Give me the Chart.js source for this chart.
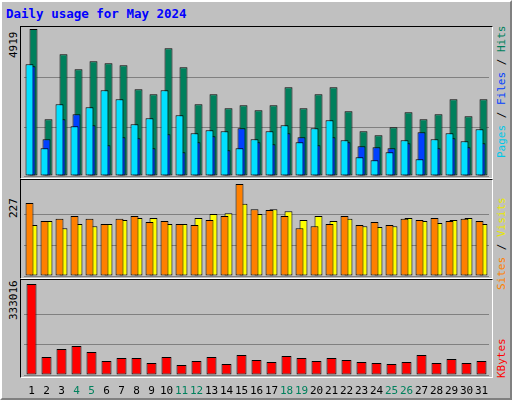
<!DOCTYPE html>
<html>
<head>
<meta charset="utf-8">
<script src="https://cdn.jsdelivr.net/npm/chart.js@4/dist/chart.umd.min.js"></script>
<style>
  body { margin: 0; background: #fff; }
  #frame { position: absolute; left: 0; top: 0; width: 508px; height: 396px; background: #c0c0c0;
    border: 2px solid; border-color: #fff #808080 #808080 #fff; font-family: "DejaVu Sans Mono", monospace; }
  .panel { position: absolute; left: 18px; width: 471px; border: 1px solid; border-color: #000 #fff #fff #000; }
  canvas { position: absolute; }
  .title { position: absolute; left: 4px; top: 4px; color: #0000ff; font-weight: bold; font-size: 12.5px; }
  .rot { position: absolute; transform-origin: 0 0; transform: rotate(-90deg); white-space: nowrap;
    font-size: 11px; }
</style>
</head>
<body>
<div id="frame">
  <div class="title">Daily usage for May 2024</div>
  <div class="panel" style="top:24px;height:151px"></div>
  <div class="panel" style="top:177px;height:98px"></div>
  <div class="panel" style="top:277px;height:97px"></div>

  <div class="rot" style="left:5px;top:56px">4919</div>
  <div class="rot" style="left:5px;top:216px">227</div>
  <div class="rot" style="left:5px;top:318px">333016</div>

  <div class="rot" style="left:493px;top:156px"><span style="color:#00c8e8">Pages</span> / <span style="color:#0040ff">Files</span> / <span style="color:#00805c">Hits</span></div>
  <div class="rot" style="left:493px;top:288px"><span style="color:#ff8000">Sites</span> / <span style="color:#e8e800">Visits</span></div>
  <div class="rot" style="left:493px;top:376px"><span style="color:#ff0000">KBytes</span></div>
</div>
<canvas id="c1" width="471" height="151" style="left:20px;top:26px"></canvas>
<canvas id="c2" width="471" height="98" style="left:20px;top:179px"></canvas>
<canvas id="c3" width="471" height="118" style="left:20px;top:279px"></canvas>
<script>
const days = ["1","2","3","4","5","6","7","8","9","10","11","12","13","14","15","16",
  "17","18","19","20","21","22","23","24","25","26","27","28","29","30","31"];
const weekend = ["4","5","11","12","18","19","25","26"];

const hits = [4919,1897,4073,3571,3838,3772,3705,2901,2734,4273,3638,2400,2734,2265,2366,2198,
  2366,2968,2265,2734,2968,2166,1495,1361,1629,2131,1897,2064,2566,1998,2566];
const files = [3671,1228,1897,2064,1697,1027,1295,1262,927,1395,793,1128,1328,860,1596,1128,
  1061,1429,1295,1027,1295,1128,994,961,927,1094,1462,927,1262,961,1094];
const pages = [3738,927,2400,1663,2298,2868,2566,1730,1931,2868,2031,1429,1529,1495,927,1228,
  1495,1697,1128,1596,1864,1195,626,525,793,1195,559,1228,1429,1161,1562];

const visits = [126,136,118,128,123,128,138,143,143,128,128,143,153,155,178,153,
  165,160,138,148,136,141,123,121,123,143,136,131,138,143,128];
const sites = [180,136,141,148,141,128,141,148,133,136,128,126,138,148,227,165,
  163,148,118,123,128,148,126,133,126,141,138,143,136,141,136];

const kbytes = [333016,65872,95150,106126,84170,51234,62212,62212,43914,65872,36596,51234,65872,40255,73191,54893,
  47574,69531,62212,51234,62212,54893,47574,43914,40255,47574,73191,43914,58553,43914,51234];

// order: lower number is drawn on top
function bars(data, color, bp, cp, order) {
  return { data, backgroundColor: color, borderColor: "#000", borderWidth: 1,
    barPercentage: bp, categoryPercentage: cp, borderSkipped: false, order };
}

function makeChart(id, datasets, max, padTop, showDays) {
  const x = {
    display: showDays,
    grid: { display: false },
    border: { display: false },
    ticks: {
      padding: 2, autoSkip: false, maxRotation: 0,
      font: { family: "DejaVu Sans Mono", size: 11 },
      color: (c) => weekend.includes(days[c.index]) ? "#00805c" : "#000"
    }
  };
  if (showDays) x.afterFit = (s) => { s.height = 22; };
  new Chart(document.getElementById(id), {
    type: "bar",
    data: { labels: days, datasets },
    options: {
      responsive: false,
      animation: false,
      layout: { padding: { left: 4, right: 2, top: padTop, bottom: showDays ? 0 : 1 } },
      plugins: { legend: { display: false }, tooltip: { enabled: false } },
      scales: {
        x,
        y: {
          min: 0, max: max,
          afterBuildTicks: (s) => { s.ticks = [0, max / 3, 2 * max / 3].map(v => ({ value: v })); },
          ticks: { display: false },
          grid: { color: "#808080", lineWidth: 1, drawTicks: false },
          border: { display: false },
          afterFit: (s) => { s.width = 0; }
        }
      }
    }
  });
}

makeChart("c1", [
  bars(hits, "#00805c", 4, 0.4, 3),
  bars(files, "#0040ff", 4, 0.4, 2),
  bars(pages, "#00e0ff", 4, 0.4, 1)
], 4919, 3, false);

makeChart("c2", [
  bars(visits, "#ffff00", 2, 0.53, 2),
  bars(sites, "#ff8000", 2, 0.53, 1)
], 227, 5, false);

makeChart("c3", [
  bars(kbytes, "#ff0000", 1, 0.667, 1)
], 333016, 5, true);
</script>
</body>
</html>
